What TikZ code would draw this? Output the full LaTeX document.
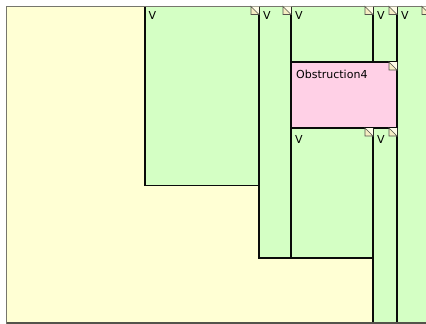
\documentclass[tikz,border=0pt]{standalone}
\usepackage{fontspec}
\setmainfont{DejaVu Sans}
\definecolor{paper}{RGB}{255,255,212}
\definecolor{leaf}{RGB}{212,255,196}
\definecolor{blush}{RGB}{255,208,230}
\definecolor{frame}{RGB}{118,118,108}
\definecolor{edge}{RGB}{10,12,10}
\definecolor{foldc}{RGB}{246,238,196}
\definecolor{foldl}{RGB}{255,253,232}
\tikzset{
  x=1pt, y=-1pt,
  region/.style={rectangle, draw=frame, fill=paper, line width=1pt,
    anchor=north west, inner sep=0pt, outer sep=0pt},
  vbox/.style={rectangle, draw=edge, fill=leaf, line width=1.15pt,
    anchor=north west, inner sep=0pt, outer sep=0pt},
  obox/.style={vbox, fill=blush},
  tag/.style={anchor=base west, inner sep=0pt, font=\fontsize{11}{13}\selectfont},
  fold/.pic={
    \fill[foldl] (-8,0) -- (0,0) -- (0,8) -- cycle;
    \filldraw[fill=foldc, draw=frame!70!black, line width=0.7pt] (-8,0) -- (-8,8) -- (0,8) -- cycle;
  }
}
\begin{document}
\begin{tikzpicture}
  \useasboundingbox (0,0) rectangle (426,324);
  \clip (0,0) rectangle (426,324);

  % enclosing region
  \node[region, minimum width=433.5pt, minimum height=316.5pt] (outer) at (6.5,6.5) {};

  % partition boxes
  \node[vbox, minimum width=114pt, minimum height=179pt] (v1) at (145,6.5) {};
  \node[vbox, minimum width=32pt,  minimum height=251.5pt] (v2) at (259,6.5) {};
  \node[vbox, minimum width=82pt,  minimum height=55.5pt]  (v3) at (291,6.5) {};
  \node[vbox, minimum width=82pt,  minimum height=130pt] (v4) at (291,128) {};
  \node[vbox, minimum width=24pt,  minimum height=55.5pt]  (v5) at (373,6.5) {};
  \node[vbox, minimum width=24pt,  minimum height=194.5pt] (v6) at (373,128) {};
  \node[vbox, minimum width=33pt,  minimum height=316pt] (v7) at (397,6.5) {};
  \node[obox, minimum width=106pt, minimum height=66pt]  (ob) at (291,62) {};

  % the region's frame stays visible along the shared top and bottom edges
  \draw[frame, line width=1.4pt] (outer.north west) -- (outer.north east);
  \draw[frame!70!black, line width=1.2pt] (outer.south west) -- (outer.south east);

  % folded corners
  \foreach \b in {v1,v2,v3,v4,v5,v6,v7,ob}
    \pic at (\b.north east) {fold};

  % labels
  \node[tag] (t1) at (148.5,19.5) {V};
  \node[tag] (t2) at (263,19.5) {V};
  \node[tag] (t3) at (295,19.5) {V};
  \node[tag] (t5) at (377,19.5) {V};
  \node[tag] (t7) at (401,19.5) {V};
  \node[tag] (t4) at (295,143) {V};
  \node[tag] (t6) at (377,143) {V};
  \node[tag] (to) at (296,78) {Obstruction4};
\end{tikzpicture}
\end{document}
